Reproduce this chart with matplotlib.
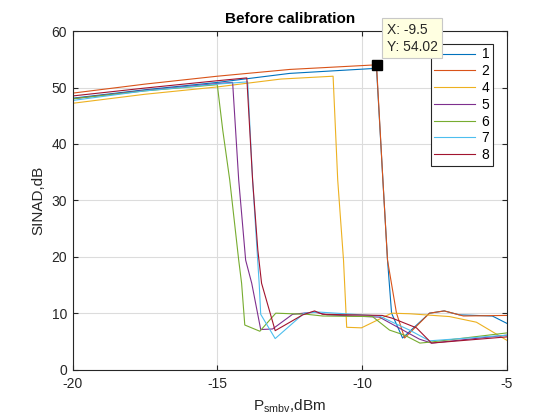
import matplotlib
matplotlib.use('Agg')
import matplotlib.pyplot as plt

plt.rcParams['font.family'] = ['Liberation Sans', 'DejaVu Sans']
plt.rcParams['mathtext.fontset'] = 'custom'
plt.rcParams['mathtext.rm'] = 'Liberation Sans'
plt.rcParams['axes.unicode_minus'] = False

# series (x in dBm, y SINAD in dB)
x1 = [-20, -17.5, -15, -12.5, -9.5, -9.28, -9.12, -8.98, -8.6, -7.67, -7.16, -6.64, -5.5, -5]
y1 = [48.1, 49.6, 50.9, 52.5, 53.4, 33.6, 19.4, 10.0, 5.6, 10.0, 10.4, 9.7, 9.5, 8.2]

x2 = [-20, -17.5, -15, -12.5, -9.5, -9.28, -9.12, -8.81, -8.53, -7.67, -7.16, -6.64, -6.5, -5]
y2 = [49.0, 50.6, 52.0, 53.2, 54.02, 33.6, 19.4, 10.0, 5.6, 10.0, 10.4, 9.7, 9.5, 9.6]

x4 = [-20, -17.5, -15, -12.8, -11.0, -10.84, -10.64, -10.53, -10.02, -8.98, -8.36, -6.98, -6.05, -5]
y4 = [47.2, 48.8, 50.1, 51.5, 52.0, 33.6, 19.4, 7.5, 7.4, 10.0, 9.9, 9.4, 8.4, 5.2]

x5 = [-20, -17.5, -15, -14.47, -14.26, -14.02, -13.81, -13.5, -13.09, -12.4, -11.64, -11.2, -9.4, -8.02, -7.6, -5]
y5 = [48.0, 49.5, 50.7, 50.9, 33.6, 19.4, 15.3, 7.1, 7.2, 9.8, 10.2, 9.7, 9.3, 5.4, 4.7, 6.1]

x6 = [-20, -17.5, -15, -14.81, -14.57, -14.26, -14.16, -14.05, -13.53, -12.98, -11.9, -11.36,
      -9.64, -9.05, -8.53, -8.0, -7.6, -5]
y6 = [48.0, 49.4, 50.5, 42.4, 33.6, 19.4, 15.3, 7.9, 6.8, 10.0, 9.8, 9.5,
      9.4, 7.0, 6.1, 4.7, 4.9, 6.5]

x7 = [-20, -17.5, -15, -13.95, -13.78, -13.55, -13.5, -13.0, -12.0, -11.5, -9.4, -8.95, -8.36, -7.67, -5]
y7 = [47.7, 49.4, 50.6, 51.0, 33.6, 15.0, 9.8, 5.5, 10.0, 10.2, 9.5, 8.4, 7.0, 5.1, 6.1]

x8 = [-20, -17.5, -15, -13.98, -13.78, -13.6, -13.47, -13.0, -12.05, -11.64, -11.36, -9.3, -8.95, -8.12, -7.6, -5]
y8 = [48.5, 49.9, 51.2, 51.7, 33.6, 21.2, 15.3, 6.9, 9.7, 10.4, 9.8, 9.6, 9.1, 7.4, 4.7, 5.8]

labels = ['1', '2', '4', '5', '6', '7', '8']
colors = ['#0072BD', '#D95319', '#EDB120', '#7E2F8E', '#77AC30', '#4DBEEE', '#A2142F']
series = [(x1, y1), (x2, y2), (x4, y4), (x5, y5), (x6, y6), (x7, y7), (x8, y8)]

tip_x = -9.5
tip_y = 54.02

fig = plt.figure(figsize=(5.6, 4.2), dpi=100)
ax = fig.add_axes([0.1295, 0.120, 0.7755, 0.806])

for (xs, ys), lab, c in zip(series, labels, colors):
    ax.plot(xs, ys, color=c, lw=0.8, label=lab)

ax.set_xlim(-20, -5)
ax.set_ylim(0, 60)
ax.set_xticks([-20, -15, -10, -5])
ax.set_yticks(range(0, 61, 10))
ax.grid(True, color='#dcdcdc', lw=0.8)
ax.set_axisbelow(True)
ax.tick_params(direction='in', length=3.5, width=0.8, top=True, right=True,
               labelsize=10, colors='#262626')
ax.tick_params(axis='x', pad=5)
ax.tick_params(axis='y', pad=4)
for sp in ax.spines.values():
    sp.set_color('#262626')
    sp.set_linewidth(0.8)

ax.set_title('Before calibration', fontsize=11, fontweight='bold', color='black', pad=6)
ax.set_xlabel(r'P$_{\rm smbv}$,dBm', fontsize=11, color='#262626', labelpad=5)
ax.set_ylabel('SINAD,dB', fontsize=11, color='#262626', labelpad=4)

leg = ax.legend(loc='upper right', bbox_to_anchor=(0.968, 0.962), borderaxespad=0,
                fontsize=10, handlelength=2.9, handletextpad=0.5, labelspacing=0.2,
                borderpad=0.25, fancybox=False, framealpha=1, edgecolor='#262626')
leg.get_frame().set_linewidth(0.8)

# data tip
ax.plot([tip_x], [tip_y], 's', color='black', ms=7, zorder=10, clip_on=False)
ax.annotate('X: -9.5\nY: 54.02', xy=(tip_x, tip_y), xytext=(10, 11),
            textcoords='offset pixels', ha='left', va='bottom', fontsize=10,
            color='#262626', zorder=11, annotation_clip=False, linespacing=1.3,
            bbox=dict(boxstyle='square,pad=0.3', fc='#ffffe1', ec='#c8c8c8', lw=0.8))

fig.savefig('out.png', dpi=100)
